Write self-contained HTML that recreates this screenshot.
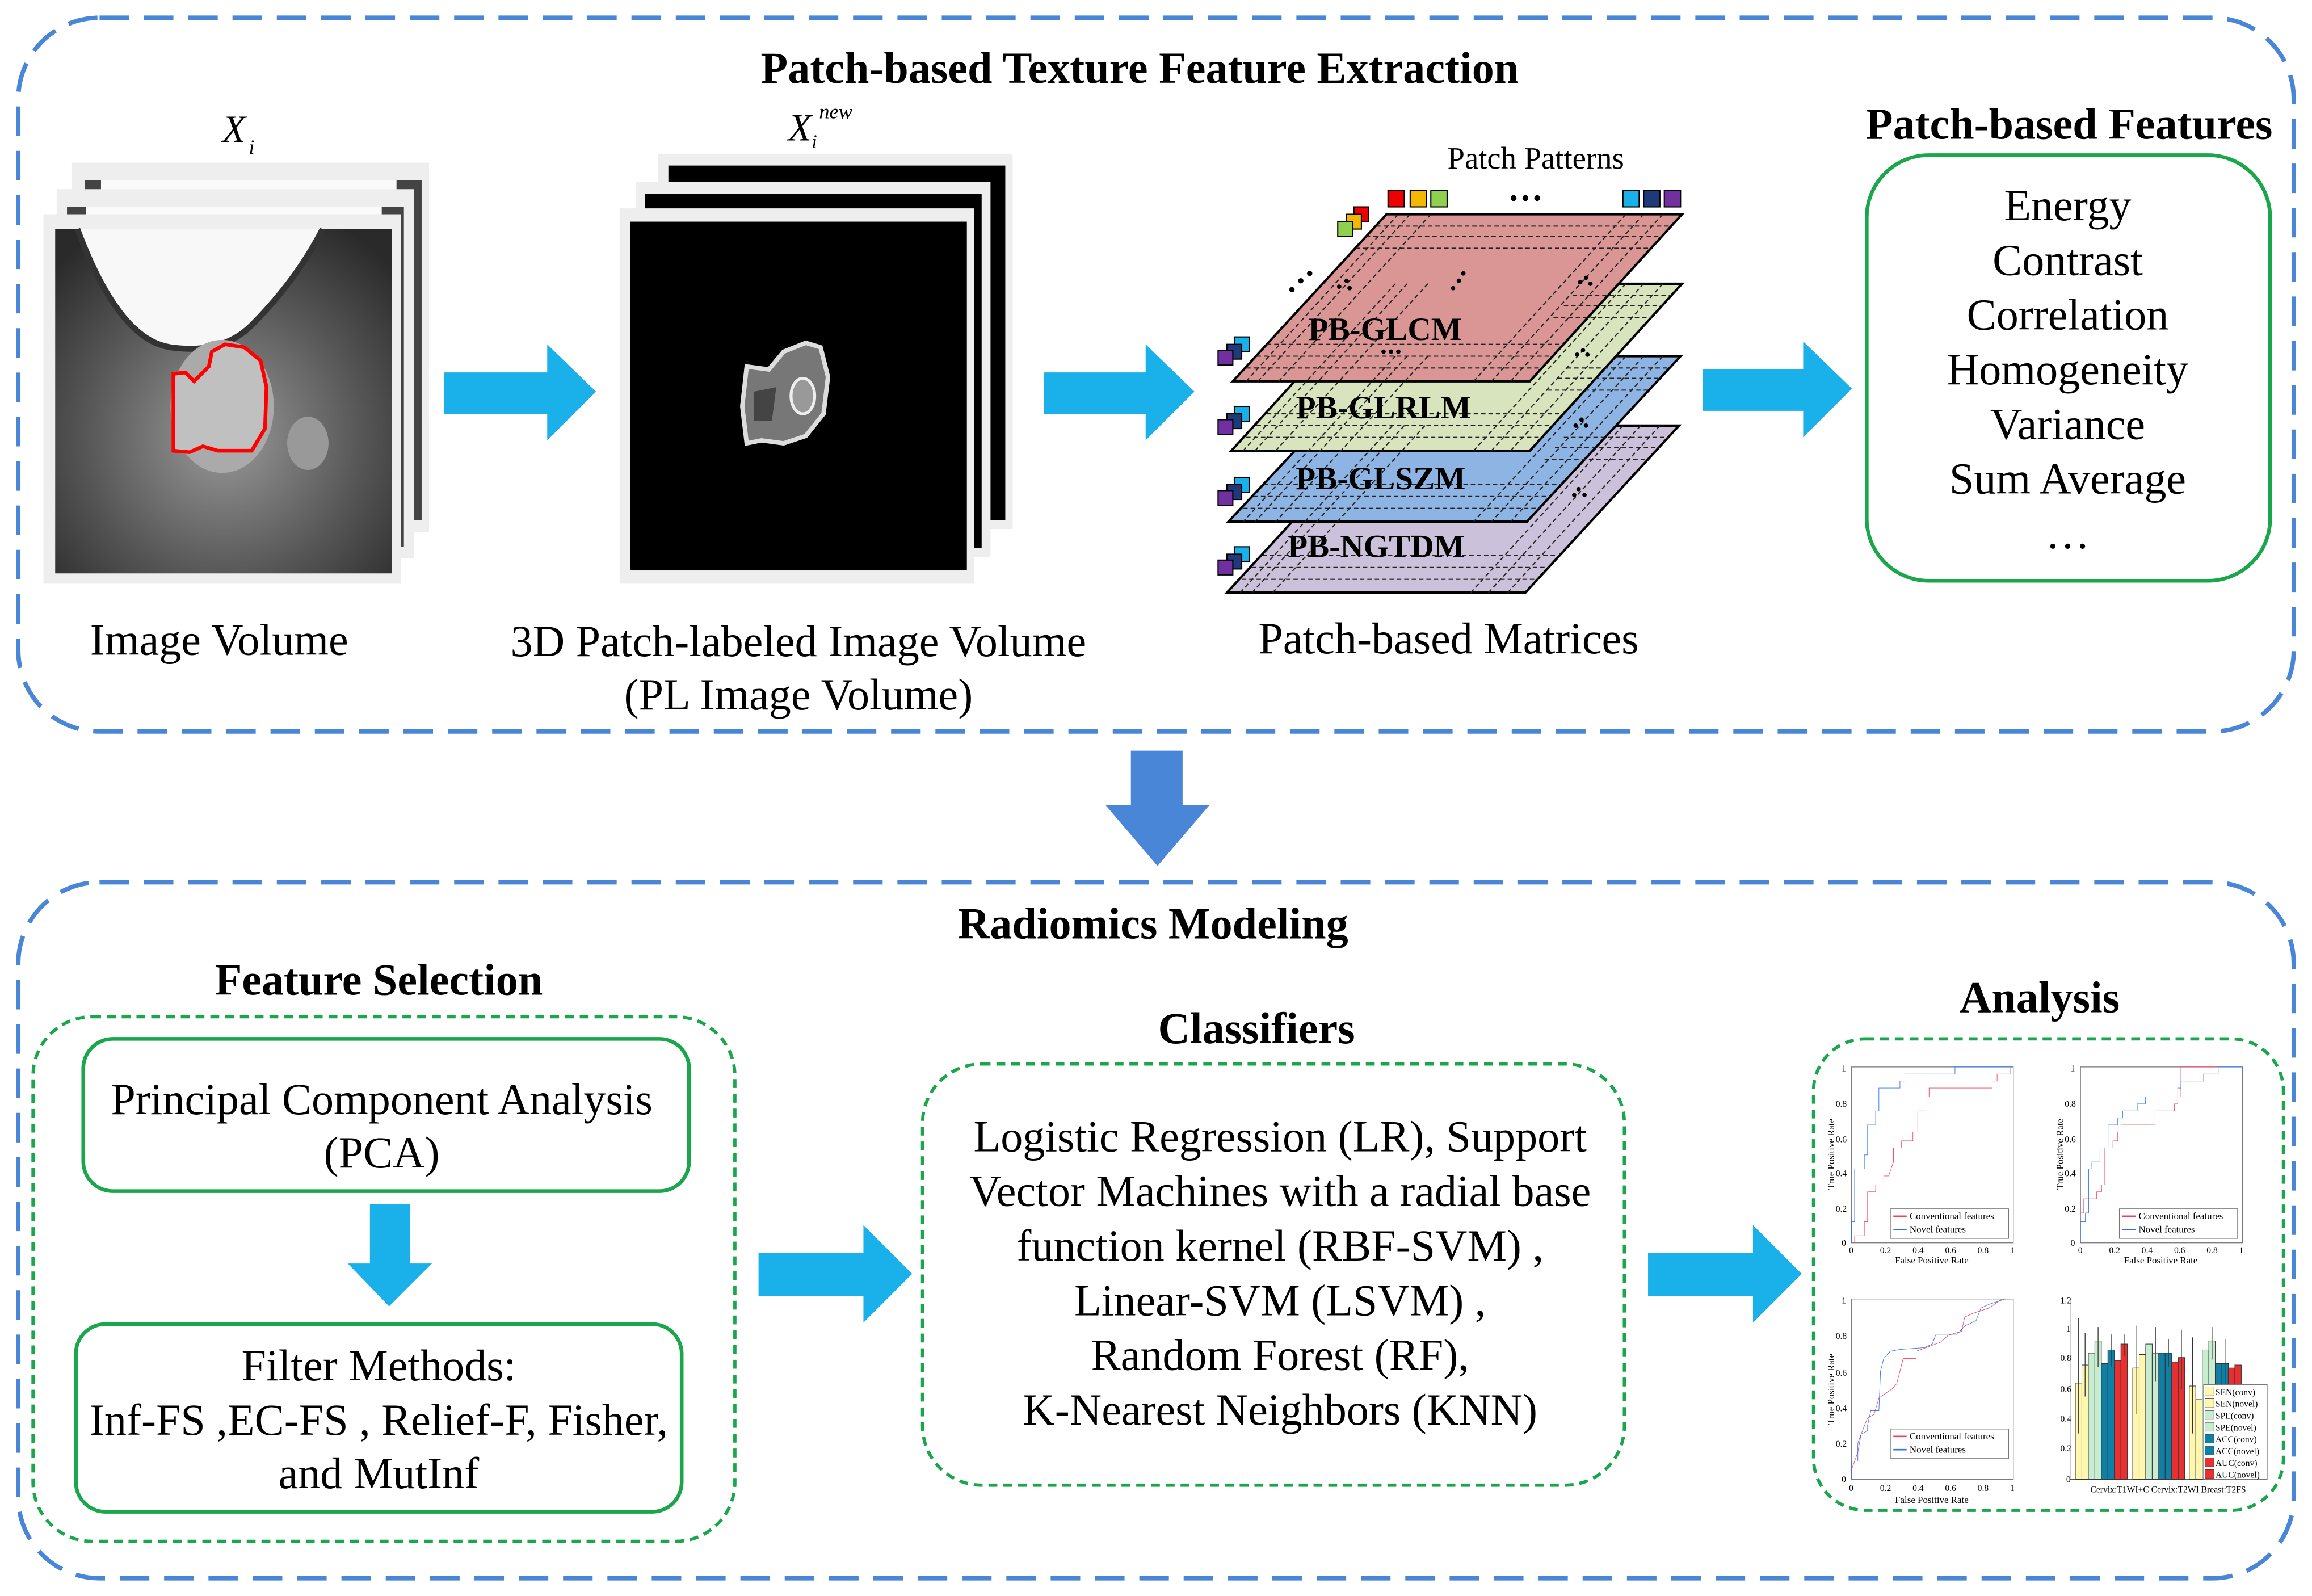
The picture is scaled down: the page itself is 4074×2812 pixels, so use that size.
<!DOCTYPE html>
<html><head><meta charset="utf-8"><style>
html,body{margin:0;padding:0;background:#fff;}
svg{display:block;}
text{font-family:"Liberation Serif",serif;fill:#000;}
</style></head><body>
<svg width="4074" height="2812" viewBox="0 0 1564 1080" xmlns="http://www.w3.org/2000/svg">
<defs>
<radialGradient id="mri" cx="0.5" cy="0.6" r="0.7">
<stop offset="0" stop-color="#9a9a9a"/><stop offset="0.6" stop-color="#555"/><stop offset="1" stop-color="#2a2a2a"/>
</radialGradient>
</defs>
<rect width="1564" height="1080" fill="#fff"/>

<rect x="12" y="12" width="1540" height="483" rx="55" fill="none" stroke="#4a86d8" stroke-width="3" stroke-dasharray="20,10"/>
<text x="771" y="56" font-size="30" font-weight="bold" text-anchor="middle">Patch-based Texture Feature Extraction</text>

<!-- Image volume -->
<rect x="48" y="110" width="242" height="250" fill="#eee"/>
<rect x="57" y="122" width="228" height="230" fill="#444"/>
<rect x="68" y="122" width="200" height="12" fill="#fafafa"/>
<rect x="38" y="128" width="242" height="250" fill="#eee"/>
<rect x="45" y="140" width="228" height="230" fill="#444"/>
<rect x="58" y="140" width="200" height="14" fill="#fafafa"/>
<rect x="29" y="145" width="242" height="250" fill="#eee"/>
<rect x="37" y="155" width="228" height="233" fill="url(#mri)"/>
<path d="M52 155 Q80 230 115 235 Q150 240 170 220 Q200 190 218 155 Z" fill="#f8f8f8"/>
<path d="M52 155 Q80 230 115 235 Q150 240 170 220 Q200 190 218 155" fill="none" stroke="#333" stroke-width="4"/>
<ellipse cx="150" cy="275" rx="35" ry="45" fill="#aaa"/>
<ellipse cx="208" cy="300" rx="14" ry="18" fill="#999"/>
<path d="M117 253 L125 252 L131 258 L141 248 L143 238 L152 233 L165 235 L176 244 L180 262 L179 290 L170 305 L147 305 L137 302 L128 306 L117 305 Z" fill="#c0c0c0" stroke="#f00" stroke-width="2.5"/>
<text x="158" y="96" font-size="26" font-style="italic" text-anchor="middle">X</text>
<text x="168" y="104" font-size="14" font-style="italic">i</text>

<path d="M300 252 H370 V233 L403 265 L370 298 V280 H300 Z" fill="#1ab0ea"/>

<!-- PL Image volume -->
<rect x="445" y="104" width="240" height="254" fill="#eee"/>
<rect x="452" y="112" width="228" height="240" fill="#000"/>
<rect x="430" y="123" width="240" height="254" fill="#eee"/>
<rect x="436" y="131" width="228" height="240" fill="#000"/>
<rect x="419" y="141" width="240" height="254" fill="#eee"/>
<rect x="426" y="150" width="228" height="236" fill="#000"/>
<path d="M505 248 L520 250 L530 238 L545 232 L555 235 L560 255 L557 280 L545 295 L530 300 L515 298 L505 300 L502 275 Z" fill="#777" stroke="#ddd" stroke-width="3"/>
<ellipse cx="543" cy="268" rx="8" ry="12" fill="#999" stroke="#eee" stroke-width="2"/>
<path d="M510 265 L525 262 L522 285 L510 285 Z" fill="#444"/>
<text x="541" y="95" font-size="26" font-style="italic" text-anchor="middle">X</text>
<text x="549" y="100" font-size="13" font-style="italic">i</text>
<text x="554" y="80" font-size="14" font-style="italic">new</text>

<path d="M706 252 H775 V233 L808 265 L775 298 V280 H706 Z" fill="#1ab0ea"/>

<!-- matrices -->
<text x="1039" y="114" font-size="21" text-anchor="middle">Patch Patterns</text>
<g stroke="#000" stroke-width="1.6">
<polygon points="934,288 1136,288 1032,401 830,401" fill="#ccc1da"/>
<polygon points="936,241 1137,241 1033,353 831,353" fill="#8eb4e3"/>
<polygon points="936,192 1138,192 1035,305 833,305" fill="#d7e4bd"/>
<polygon points="938,145 1138,145 1035,258 834,258" fill="#d99694"/>
</g>
<g stroke="#222" stroke-width="0.8" stroke-dasharray="3,2" fill="none">
<line x1="946" y1="145" x2="843" y2="258"/><line x1="954" y1="145" x2="851" y2="258"/><line x1="968" y1="145" x2="865" y2="258"/>
<line x1="1100" y1="145" x2="997" y2="258"/><line x1="1112" y1="145" x2="1009" y2="258"/><line x1="1125" y1="145" x2="1022" y2="258"/>
<line x1="931" y1="153" x2="1130" y2="153"/><line x1="924" y1="160" x2="1124" y2="160"/><line x1="917" y1="168" x2="1117" y2="168"/>
<line x1="857" y1="233" x2="1058" y2="233"/><line x1="850" y1="241" x2="1050" y2="241"/><line x1="843" y1="249" x2="1043" y2="249"/>
<line x1="944" y1="192" x2="841" y2="305"/><line x1="952" y1="192" x2="849" y2="305"/><line x1="966" y1="192" x2="863" y2="305"/>
<line x1="1100" y1="192" x2="997" y2="305"/><line x1="1112" y1="192" x2="1009" y2="305"/><line x1="1125" y1="192" x2="1022" y2="305"/>
<line x1="1064" y1="200" x2="1131" y2="200"/><line x1="1058" y1="207" x2="1125" y2="207"/><line x1="1051" y1="215" x2="1118" y2="215"/>
<line x1="857" y1="280" x2="1058" y2="280"/><line x1="850" y1="288" x2="1050" y2="288"/><line x1="843" y1="296" x2="1043" y2="296"/>
<line x1="944" y1="241" x2="841" y2="353"/><line x1="952" y1="241" x2="849" y2="353"/><line x1="966" y1="241" x2="863" y2="353"/>
<line x1="1100" y1="241" x2="997" y2="353"/><line x1="1112" y1="241" x2="1009" y2="353"/><line x1="1125" y1="241" x2="1022" y2="353"/>
<line x1="1060" y1="249" x2="1130" y2="249"/><line x1="1054" y1="256" x2="1124" y2="256"/><line x1="1047" y1="264" x2="1117" y2="264"/>
<line x1="855" y1="328" x2="1057" y2="328"/><line x1="848" y1="336" x2="1049" y2="336"/><line x1="841" y1="344" x2="1042" y2="344"/>
<line x1="942" y1="288" x2="839" y2="401"/><line x1="950" y1="288" x2="847" y2="401"/><line x1="964" y1="288" x2="861" y2="401"/>
<line x1="1098" y1="288" x2="995" y2="401"/><line x1="1110" y1="288" x2="1007" y2="401"/><line x1="1123" y1="288" x2="1020" y2="401"/>
<line x1="1058" y1="296" x2="1129" y2="296"/><line x1="1052" y1="303" x2="1123" y2="303"/><line x1="1045" y1="311" x2="1116" y2="311"/>
<line x1="854" y1="376" x2="1055" y2="376"/><line x1="847" y1="384" x2="1048" y2="384"/><line x1="840" y1="392" x2="1041" y2="392"/>
</g>
<g font-size="22" font-weight="bold" text-anchor="middle">
<text x="937" y="230">PB-GLCM</text>
<text x="936" y="283">PB-GLRLM</text>
<text x="934" y="331">PB-GLSZM</text>
<text x="931" y="377">PB-NGTDM</text>
</g>
<g fill="#000">
<circle cx="874" cy="196" r="1.8"/><circle cx="880" cy="190" r="1.8"/><circle cx="886" cy="185" r="1.8"/>
<circle cx="906" cy="194" r="1.5"/><circle cx="911" cy="190" r="1.5"/><circle cx="913" cy="195" r="1.5"/>
<circle cx="983" cy="195" r="1.5"/><circle cx="987" cy="190" r="1.5"/><circle cx="990" cy="185" r="1.5"/>
<circle cx="1069" cy="191" r="1.5"/><circle cx="1073" cy="188" r="1.5"/><circle cx="1076" cy="192" r="1.5"/>
<circle cx="936" cy="238" r="1.5"/><circle cx="941" cy="238" r="1.5"/><circle cx="946" cy="238" r="1.5"/>
<circle cx="1067" cy="240" r="1.5"/><circle cx="1071" cy="237" r="1.5"/><circle cx="1074" cy="240" r="1.5"/>
<circle cx="1066" cy="288" r="1.5"/><circle cx="1070" cy="284" r="1.5"/><circle cx="1073" cy="288" r="1.5"/>
<circle cx="1065" cy="335" r="1.5"/><circle cx="1068" cy="331" r="1.5"/><circle cx="1072" cy="335" r="1.5"/>
<circle cx="1024" cy="134" r="2"/><circle cx="1032" cy="134" r="2"/><circle cx="1040" cy="134" r="2"/>
</g>
<g stroke="#000" stroke-width="0.8">
<rect x="939" y="129" width="11" height="11" fill="#e00"/><rect x="954" y="129" width="11" height="11" fill="#f5b800"/><rect x="968" y="129" width="11" height="11" fill="#8fd14f"/>
<rect x="1098" y="129" width="11" height="11" fill="#1ab0ea"/><rect x="1112" y="129" width="11" height="11" fill="#1f3a7a"/><rect x="1126" y="129" width="11" height="11" fill="#7030a0"/>
<rect x="916" y="140" width="10" height="10" fill="#e00"/><rect x="911" y="145" width="10" height="10" fill="#f5b800"/><rect x="905" y="150" width="10" height="10" fill="#8fd14f"/>
</g>
<g stroke="#000" stroke-width="0.8" id="cs">
<rect x="835" y="228" width="10" height="10" fill="#1ab0ea"/><rect x="830" y="233" width="10" height="10" fill="#1f3a7a"/><rect x="824" y="237" width="10" height="10" fill="#7030a0"/>
</g>
<use href="#cs" y="47"/><use href="#cs" y="95"/><use href="#cs" y="142"/>

<path d="M1152 250 H1220 V231 L1253 263 L1220 296 V278 H1152 Z" fill="#1ab0ea"/>

<text x="1400" y="94" font-size="30" font-weight="bold" text-anchor="middle">Patch-based Features</text>
<rect x="1263" y="105" width="273" height="288" rx="42" fill="none" stroke="#1aa64a" stroke-width="2.5"/>
<g font-size="30" text-anchor="middle">
<text x="1399" y="149">Energy</text>
<text x="1399" y="186">Contrast</text>
<text x="1399" y="223">Correlation</text>
<text x="1399" y="260">Homogeneity</text>
<text x="1399" y="297">Variance</text>
<text x="1399" y="334">Sum Average</text>
<text x="1399" y="371">…</text>
<text x="148" y="443">Image Volume</text>
<text x="540" y="444">3D Patch-labeled Image Volume</text>
<text x="540" y="480">(PL Image Volume)</text>
<text x="980" y="442">Patch-based Matrices</text>
</g>

<path d="M765 508 H800 V545 H818 L783 586 L748 545 H765 Z" fill="#4a86d8"/>

<rect x="12" y="597" width="1540" height="471" rx="55" fill="none" stroke="#4a86d8" stroke-width="3" stroke-dasharray="20,10"/>
<text x="780" y="635" font-size="30" font-weight="bold" text-anchor="middle">Radiomics Modeling</text>

<text x="256" y="673" font-size="30" font-weight="bold" text-anchor="middle">Feature Selection</text>
<rect x="22" y="688" width="475" height="355" rx="40" fill="none" stroke="#1aa64a" stroke-width="2.2" stroke-dasharray="6,4"/>
<rect x="56" y="703" width="410" height="103" rx="20" fill="none" stroke="#1aa64a" stroke-width="2.5"/>
<g font-size="30" text-anchor="middle">
<text x="258" y="754">Principal Component Analysis</text>
<text x="258" y="790">(PCA)</text>
</g>
<path d="M250 815 H277 V855 H292 L263 884 L235 855 H250 Z" fill="#1ab0ea"/>
<rect x="51" y="896" width="410" height="127" rx="20" fill="none" stroke="#1aa64a" stroke-width="2.5"/>
<g font-size="30" text-anchor="middle">
<text x="256" y="934">Filter Methods:</text>
<text x="256" y="971">Inf-FS ,EC-FS , Relief-F, Fisher,</text>
<text x="256" y="1007">and MutInf</text>
</g>

<path d="M513 848 H584 V829 L617 862 L584 895 V877 H513 Z" fill="#1ab0ea"/>

<text x="850" y="706" font-size="30" font-weight="bold" text-anchor="middle">Classifiers</text>
<rect x="624" y="720" width="475" height="285" rx="40" fill="none" stroke="#1aa64a" stroke-width="2.2" stroke-dasharray="6,4"/>
<g font-size="30" text-anchor="middle">
<text x="866" y="779">Logistic Regression (LR), Support</text>
<text x="866" y="816">Vector Machines with a radial base</text>
<text x="866" y="853">function kernel (RBF-SVM) ,</text>
<text x="866" y="890">Linear-SVM (LSVM) ,</text>
<text x="866" y="927">Random Forest (RF),</text>
<text x="866" y="964">K-Nearest Neighbors (KNN)</text>
</g>

<path d="M1115 848 H1186 V829 L1219 862 L1186 895 V877 H1115 Z" fill="#1ab0ea"/>

<text x="1380" y="685" font-size="30" font-weight="bold" text-anchor="middle">Analysis</text>
<rect x="1227" y="703" width="318" height="319" rx="35" fill="none" stroke="#1aa64a" stroke-width="2.2" stroke-dasharray="6,4"/>

<g transform="translate(1252.6,722)"><rect width="109.6" height="119" fill="none" stroke="#777" stroke-width="0.5"/></g>
<g transform="translate(1252.6,841) scale(109.6,-119)" fill="none">
<polyline vector-effect="non-scaling-stroke" stroke="#f04060" stroke-width="0.9" points="0.02,0 0.02,0.04 0.08,0.04 0.08,0.12 0.1,0.12 0.1,0.29 0.15,0.29 0.15,0.33 0.2,0.33 0.2,0.38 0.23,0.38 0.26,0.46 0.26,0.54 0.31,0.54 0.31,0.58 0.38,0.58 0.38,0.63 0.41,0.63 0.41,0.75 0.46,0.75 0.46,0.83 0.48,0.83 0.48,0.88 0.87,0.88 0.87,0.92 0.9,0.92 0.9,0.96 0.98,0.96 0.98,1 1,1"/>
<polyline vector-effect="non-scaling-stroke" stroke="#3070f0" stroke-width="0.9" points="0,0 0,0.12 0.02,0.12 0.02,0.42 0.08,0.42 0.08,0.5 0.1,0.5 0.1,0.67 0.15,0.67 0.15,0.75 0.17,0.75 0.17,0.88 0.3,0.88 0.3,0.92 0.33,0.92 0.33,0.96 0.64,0.96 0.64,1 1,1"/>
</g>
<g transform="translate(1407.7,722)"><rect width="109.6" height="119" fill="none" stroke="#777" stroke-width="0.5"/></g>
<g transform="translate(1407.7,841) scale(109.6,-119)" fill="none">
<polyline vector-effect="non-scaling-stroke" stroke="#f04060" stroke-width="0.9" points="0,0.17 0.02,0.17 0.02,0.25 0.1,0.25 0.1,0.29 0.13,0.29 0.13,0.33 0.15,0.33 0.15,0.54 0.2,0.54 0.2,0.58 0.23,0.58 0.23,0.63 0.25,0.63 0.25,0.67 0.46,0.67 0.46,0.75 0.58,0.75 0.58,0.79 0.6,0.79 0.6,0.83 0.62,0.83 0.62,1 0.85,1"/>
<polyline vector-effect="non-scaling-stroke" stroke="#3070f0" stroke-width="0.9" points="0,0 0,0.12 0.03,0.12 0.03,0.17 0.05,0.17 0.05,0.42 0.07,0.42 0.07,0.46 0.12,0.46 0.12,0.54 0.17,0.54 0.17,0.67 0.23,0.67 0.23,0.71 0.26,0.71 0.26,0.75 0.35,0.75 0.35,0.79 0.4,0.79 0.4,0.83 0.6,0.83 0.6,0.88 0.62,0.88 0.62,0.92 0.76,0.92 0.76,0.96 0.85,0.96 0.85,1 1,1"/>
</g>
<g transform="translate(1252.6,879)"><rect width="109.6" height="122" fill="none" stroke="#777" stroke-width="0.5"/></g>
<g transform="translate(1252.6,1001) scale(109.6,-122)" fill="none">
<polyline vector-effect="non-scaling-stroke" stroke="#f04060" stroke-width="0.9" points="0,0 0,0.05 0.04,0.15 0.06,0.25 0.1,0.34 0.14,0.36 0.17,0.45 0.2,0.47 0.25,0.5 0.28,0.53 0.3,0.6 0.32,0.67 0.4,0.67 0.4,0.71 0.46,0.73 0.55,0.76 0.6,0.8 0.68,0.82 0.7,0.9 0.75,0.92 0.85,0.95 0.93,1 1,1"/>
<polyline vector-effect="non-scaling-stroke" stroke="#3070f0" stroke-width="0.9" points="0,0 0,0.1 0.04,0.1 0.04,0.2 0.06,0.25 0.1,0.27 0.1,0.3 0.12,0.38 0.17,0.38 0.18,0.6 0.2,0.67 0.24,0.71 0.3,0.72 0.45,0.73 0.5,0.75 0.52,0.8 0.65,0.8 0.7,0.85 0.77,0.88 0.8,0.95 0.85,0.97 0.95,1 1,1"/>
</g>
<g font-size="6.5">
<g id="lg"><rect x="1279" y="818" width="80" height="20" fill="#fff" stroke="#777" stroke-width="0.5"/>
<line x1="1281" y1="823" x2="1290" y2="823" stroke="#f04060"/><text x="1292" y="825">Conventional features</text>
<line x1="1281" y1="832" x2="1290" y2="832" stroke="#3070f0"/><text x="1292" y="834">Novel features</text></g>
<use href="#lg" x="155"/>
<use href="#lg" y="149"/>
<text x="1307" y="855" text-anchor="middle">False Positive Rate</text>
<text x="1462" y="855" text-anchor="middle">False Positive Rate</text>
<text x="1307" y="1017" text-anchor="middle">False Positive Rate</text>
<text transform="translate(1241,781) rotate(-90)" text-anchor="middle">True Positive Rate</text>
<text transform="translate(1396,781) rotate(-90)" text-anchor="middle">True Positive Rate</text>
<text transform="translate(1241,940) rotate(-90)" text-anchor="middle">True Positive Rate</text>
</g>
<g font-size="6" fill="#333">
<text x="1246" y="725">1</text><text x="1242" y="749">0.8</text><text x="1242" y="773">0.6</text><text x="1242" y="796">0.4</text><text x="1242" y="820">0.2</text><text x="1246" y="843">0</text>
<text x="1401" y="725">1</text><text x="1397" y="749">0.8</text><text x="1397" y="773">0.6</text><text x="1397" y="796">0.4</text><text x="1397" y="820">0.2</text><text x="1401" y="843">0</text>
<text x="1246" y="882">1</text><text x="1242" y="906">0.8</text><text x="1242" y="931">0.6</text><text x="1242" y="955">0.4</text><text x="1242" y="979">0.2</text><text x="1246" y="1003">0</text>
<text x="1251" y="848">0</text><text x="1272" y="848">0.2</text><text x="1294" y="848">0.4</text><text x="1316" y="848">0.6</text><text x="1338" y="848">0.8</text><text x="1360" y="848">1</text>
<text x="1406" y="848">0</text><text x="1427" y="848">0.2</text><text x="1449" y="848">0.4</text><text x="1471" y="848">0.6</text><text x="1493" y="848">0.8</text><text x="1515" y="848">1</text>
<text x="1251" y="1009">0</text><text x="1272" y="1009">0.2</text><text x="1294" y="1009">0.4</text><text x="1316" y="1009">0.6</text><text x="1338" y="1009">0.8</text><text x="1360" y="1009">1</text>
<text x="1394" y="882">1.2</text><text x="1398" y="901">1</text><text x="1394" y="921">0.8</text><text x="1394" y="942">0.6</text><text x="1394" y="962">0.4</text><text x="1394" y="982">0.2</text><text x="1398" y="1003">0</text>
</g>
<line x1="1400.6" y1="879" x2="1400.6" y2="1001" stroke="#555" stroke-width="0.5"/>
<line x1="1400.6" y1="1001" x2="1534" y2="1001" stroke="#555" stroke-width="0.5"/>
<g stroke="#333" stroke-width="0.4">
<rect x="1404.2" y="935.9" width="4.4" height="65.1" fill="#fff7b0"/><rect x="1408.6" y="923.7" width="4.4" height="77.3" fill="#fff7b0"/><rect x="1413" y="915.6" width="4.4" height="85.4" fill="#c7ecd0"/><rect x="1417.4" y="907.4" width="4.4" height="93.6" fill="#c7ecd0"/><rect x="1421.8" y="922.7" width="4.4" height="78.3" fill="#0f7fa6"/><rect x="1426.2" y="913.5" width="4.4" height="87.5" fill="#0f7fa6"/><rect x="1430.6" y="920.7" width="4.4" height="80.3" fill="#e83030"/><rect x="1435" y="909.5" width="4.4" height="91.5" fill="#e83030"/>
<rect x="1443" y="925.7" width="4.4" height="75.3" fill="#fff7b0"/><rect x="1447.4" y="916.6" width="4.4" height="84.4" fill="#fff7b0"/><rect x="1451.8" y="909.5" width="4.4" height="91.5" fill="#c7ecd0"/><rect x="1456.2" y="915.6" width="4.4" height="85.4" fill="#c7ecd0"/><rect x="1460.6" y="915.6" width="4.4" height="85.4" fill="#0f7fa6"/><rect x="1465" y="915.6" width="4.4" height="85.4" fill="#0f7fa6"/><rect x="1469.4" y="921.7" width="4.4" height="79.3" fill="#e83030"/><rect x="1473.8" y="918.6" width="4.4" height="82.4" fill="#e83030"/>
<rect x="1481.3" y="937.9" width="4.4" height="63.1" fill="#fff7b0"/><rect x="1485.7" y="947.1" width="4.4" height="53.9" fill="#fff7b0"/><rect x="1490.1" y="913.5" width="4.4" height="87.5" fill="#c7ecd0"/><rect x="1494.5" y="907.4" width="4.4" height="93.6" fill="#c7ecd0"/><rect x="1498.9" y="922.7" width="4.4" height="78.3" fill="#0f7fa6"/><rect x="1503.3" y="922.7" width="4.4" height="78.3" fill="#0f7fa6"/><rect x="1507.7" y="925.7" width="4.4" height="75.3" fill="#e83030"/><rect x="1512.1" y="923.7" width="4.4" height="77.3" fill="#e83030"/>
</g>
<g stroke="#333" stroke-width="0.5">
<line x1="1406.4" y1="892" x2="1406.4" y2="970"/><line x1="1410.8" y1="902" x2="1410.8" y2="945"/><line x1="1419.6" y1="898" x2="1419.6" y2="925"/><line x1="1428.4" y1="903" x2="1428.4" y2="925"/><line x1="1437.2" y1="903" x2="1437.2" y2="918"/>
<line x1="1445.2" y1="897" x2="1445.2" y2="957"/><line x1="1458.4" y1="898" x2="1458.4" y2="935"/><line x1="1467.2" y1="906" x2="1467.2" y2="925"/><line x1="1476" y1="900" x2="1476" y2="940"/>
<line x1="1483.5" y1="905" x2="1483.5" y2="970"/><line x1="1496.7" y1="898" x2="1496.7" y2="920"/><line x1="1505.5" y1="906" x2="1505.5" y2="940"/>
</g>
<rect x="1491" y="937" width="43" height="64" fill="#fff" stroke="#777" stroke-width="0.5"/>
<g stroke="#333" stroke-width="0.3">
<rect x="1492" y="938.5" width="6" height="6" fill="#fff7b0"/><rect x="1492" y="946.5" width="6" height="6" fill="#fff7b0"/><rect x="1492" y="954.5" width="6" height="6" fill="#c7ecd0"/><rect x="1492" y="962.5" width="6" height="6" fill="#c7ecd0"/><rect x="1492" y="970.5" width="6" height="6" fill="#0f7fa6"/><rect x="1492" y="978.5" width="6" height="6" fill="#0f7fa6"/><rect x="1492" y="986.5" width="6" height="6" fill="#e83030"/><rect x="1492" y="994.5" width="6" height="6" fill="#e83030"/>
</g>
<g font-size="6">
<text x="1499" y="944">SEN(conv)</text><text x="1499" y="952">SEN(novel)</text><text x="1499" y="960">SPE(conv)</text><text x="1499" y="968">SPE(novel)</text><text x="1499" y="976">ACC(conv)</text><text x="1499" y="984">ACC(novel)</text><text x="1499" y="992">AUC(conv)</text><text x="1499" y="1000">AUC(novel)</text>
<text x="1467" y="1010" text-anchor="middle">Cervix:T1WI+C  Cervix:T2WI  Breast:T2FS</text>
</g>
</svg>
</body></html>
